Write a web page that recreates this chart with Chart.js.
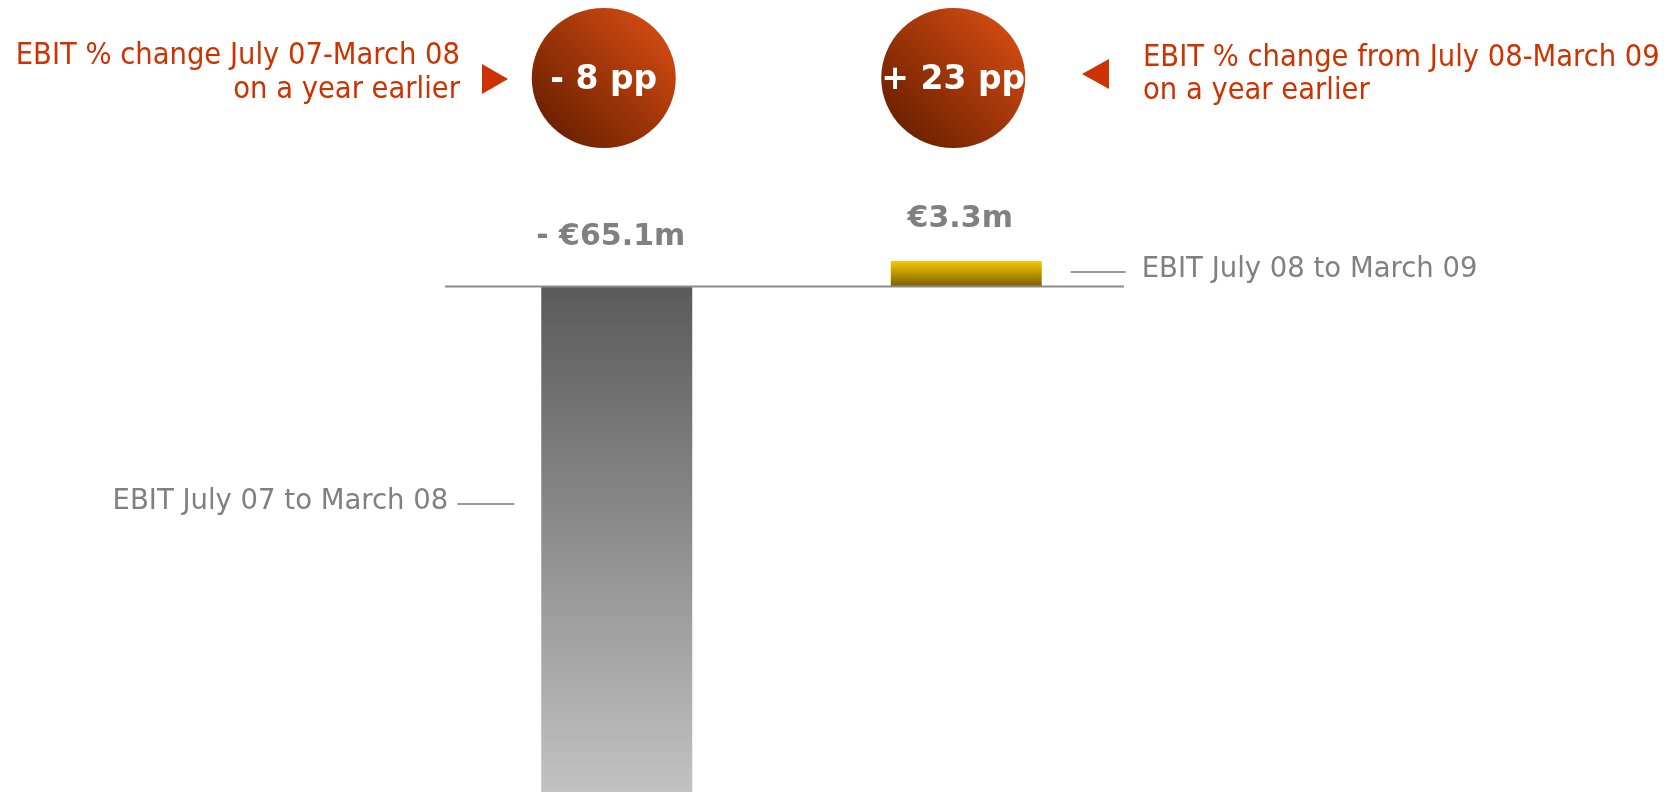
<!DOCTYPE html>
<html>
<head>
<meta charset="utf-8">
<script src="https://cdn.jsdelivr.net/npm/chart.js@4.4.0/dist/chart.umd.min.js"></script>
<style>
  body { margin: 0; background: #fff; }
  #wrap { width: 1675px; height: 792px; }
</style>
</head>
<body>
<div id="wrap"><canvas id="myChart" width="1675" height="792"></canvas></div>
<script>

var periods = ['EBIT July 07 to March 08', 'EBIT July 08 to March 09'];
var ebit = [-65.1, 3.3];
var ppChange = [-8, 23];
var notesLeft = ['EBIT % change July 07-March 08', 'on a year earlier'];
var notesRight = ['EBIT % change from July 08-March 09', 'on a year earlier'];

var orange = '#cc3300';
var grey = '#808080';

function barColor(context) {

  var chart = context.chart;
  if (!chart.chartArea) return '#888888';

  var y = chart.scales.y;
  var v = ebit[context.dataIndex];
  var zero = y.getPixelForValue(0);
  var end = y.getPixelForValue(v);
  var g = chart.ctx.createLinearGradient(0, Math.min(zero, end), 0, Math.max(zero, end));

  if (v < 0) {
    g.addColorStop(0, '#5a5a5a');
    g.addColorStop(1, '#c2c2c2');
  } else {
    g.addColorStop(0, '#f8c900');
    g.addColorStop(1, '#7a5f00');
  }
  return g;
}

function fmtMoney(v) {
  return (v < 0 ? '- €' : '€') + Math.abs(v).toFixed(1) + 'm';
}

function fmtPp(v) {
  return (v < 0 ? '- ' : '+ ') + Math.abs(v) + ' pp';
}

var annotations = {
  id: 'annotations',
  afterDatasetsDraw: function(chart) {

    var ctx = chart.ctx;
    var area = chart.chartArea;
    var y = chart.scales.y;
    var bars = chart.getDatasetMeta(0).data;
    var zero = y.getPixelForValue(0);

    ctx.save();

    // zero line
    ctx.strokeStyle = '#8a8a8a';
    ctx.lineWidth = 2;
    ctx.beginPath();
    ctx.moveTo(area.left + 3, zero);
    ctx.lineTo(area.right - 17, zero);
    ctx.stroke();

    // value labels
    ctx.fillStyle = grey;
    ctx.font = 'bold 30px "DejaVu Sans"';
    ctx.textAlign = 'center';
    ctx.textBaseline = 'middle';
    bars.forEach(function(bar, i) {
      var top = y.getPixelForValue(Math.max(ebit[i], 0));
      ctx.fillText(fmtMoney(ebit[i]), bar.x - 6, top - (ebit[i] < 0 ? 49 : 42));
    });

    // period labels with leader lines
    ctx.font = '27.5px "DejaVu Sans"';
    ctx.strokeStyle = '#7a7a7a';
    ctx.lineWidth = 1.5;

    var b0 = bars[0];
    var left0 = b0.x - b0.width / 2;
    ctx.beginPath();
    ctx.moveTo(left0 - 84, 504);
    ctx.lineTo(left0 - 27, 504);
    ctx.stroke();
    ctx.textAlign = 'right';
    ctx.fillText(periods[0], left0 - 93, 502);

    var b1 = bars[1];
    var right1 = b1.x + b1.width / 2;
    ctx.beginPath();
    ctx.moveTo(right1 + 29, 272);
    ctx.lineTo(right1 + 84, 272);
    ctx.stroke();
    ctx.textAlign = 'left';
    ctx.fillText(periods[1], right1 + 100, 270);

    // pp change bubbles
    bars.forEach(function(bar, i) {
      var cx = bar.x - 13;
      var cy = 78;
      var g = ctx.createLinearGradient(cx - 55, cy + 55, cx + 55, cy - 55);
      g.addColorStop(0, '#6a2000');
      g.addColorStop(1, '#d24a12');
      ctx.fillStyle = g;
      ctx.beginPath();
      ctx.ellipse(cx, cy, 72, 70, 0, 0, Math.PI * 2);
      ctx.fill();

      ctx.fillStyle = '#ffffff';
      ctx.font = 'bold 33px "DejaVu Sans"';
      ctx.textAlign = 'center';
      ctx.fillText(fmtPp(ppChange[i]), cx, cy + 2);
    });

    // arrows
    ctx.fillStyle = orange;
    ctx.beginPath();
    ctx.moveTo(482, 64);
    ctx.lineTo(508, 79);
    ctx.lineTo(482, 94);
    ctx.closePath();
    ctx.fill();

    ctx.beginPath();
    ctx.moveTo(1109, 59);
    ctx.lineTo(1082, 74);
    ctx.lineTo(1109, 89);
    ctx.closePath();
    ctx.fill();

    // notes
    ctx.font = '30.5px "DejaVu Sans Condensed", "DejaVu Sans"';
    ctx.textAlign = 'right';
    ctx.fillText(notesLeft[0], 460, 56);
    ctx.fillText(notesLeft[1], 460, 90);
    ctx.textAlign = 'left';
    ctx.fillText(notesRight[0], 1143, 58);
    ctx.fillText(notesRight[1], 1143, 91);

    ctx.restore();
  }
};

function stampChart() {

  var ctx = document.getElementById('myChart').getContext('2d');
  var chart = new Chart(ctx, {

    type: 'bar',
    data: {
      labels: periods,
      datasets: [{
        label: 'EBIT',
        data: ebit,
        backgroundColor: barColor,
        borderWidth: 0,
        barPercentage: 0.432,
        categoryPercentage: 1
      }]
    },
    options: {
      responsive: false,
      animation: false,
      devicePixelRatio: 1,
      layout: {
        padding: { top: 261, bottom: 0, left: 442, right: 534 }
      },
      scales: {
        x: { display: false },
        y: {
          display: false,
          min: Math.min.apply(null, ebit),
          max: Math.max.apply(null, ebit)
        }
      },
      plugins: {
        legend: { display: false },
        tooltip: { enabled: false }
      }
    },
    plugins: [annotations]
  });
}

stampChart();
</script>
</body>
</html>
